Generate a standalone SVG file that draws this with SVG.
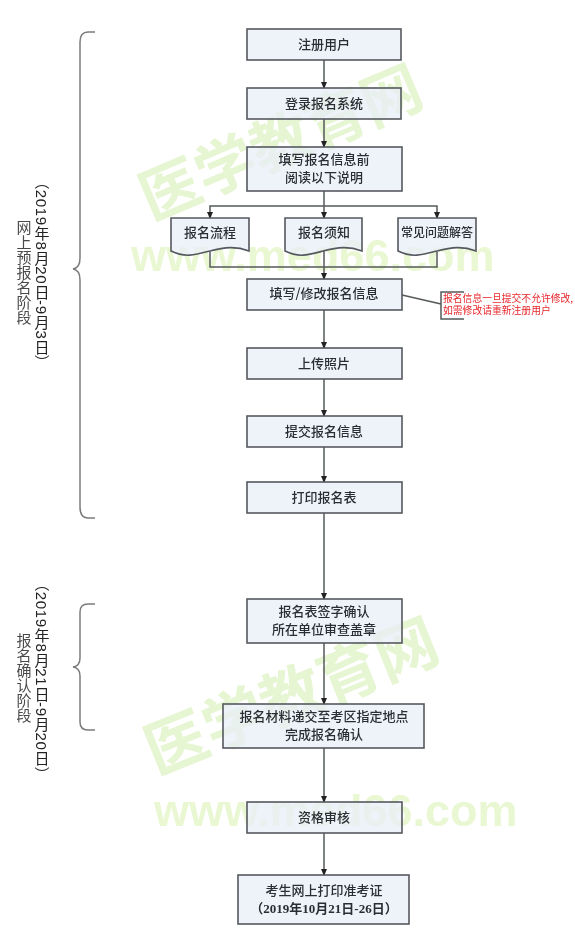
<svg xmlns="http://www.w3.org/2000/svg" width="575" height="940" viewBox="0 0 575 940">
<style>
.box{fill:#e8eef7;fill-opacity:.75;stroke:#55595f;stroke-width:1.6}
.t{font-family:"Noto Sans CJK SC","Liberation Serif",serif;font-size:13px;font-weight:500;fill:#2a2f32;text-anchor:middle}
.c{fill:none;stroke:#55595a;stroke-width:1.5}
.b{fill:none;stroke:#7c7c7c;stroke-width:1.5}
.wm{font-family:"Noto Sans CJK SC","Liberation Sans",sans-serif;font-weight:700;fill:#e6f5d2}
.wu{font-family:"Liberation Sans",sans-serif;font-weight:700;font-size:45px;fill:#e9f7d2}
.v{writing-mode:vertical-rl;font-family:"Liberation Sans","Noto Sans CJK SC",sans-serif;font-size:15px;letter-spacing:.7px;fill:#222}
.l{fill:#4a4a4a;font-family:"Noto Sans CJK SC",sans-serif;letter-spacing:0}
.r{font-family:"Noto Sans CJK SC","Liberation Sans",sans-serif;font-size:9.8px;fill:#e8262b}
</style>
<defs>
<marker id="a" markerWidth="7" markerHeight="6" refX="6" refY="3" orient="auto" markerUnits="userSpaceOnUse"><path d="M0 0L7 3L0 6Z" fill="#222"/></marker>
<filter id="s" filterUnits="userSpaceOnUse" x="0" y="0" width="575" height="940"><feGaussianBlur stdDeviation="0.5"/></filter>
</defs>
<rect width="575" height="940" fill="#fff"/>
<g filter="url(#s)">
<g id="watermarks">
<text class="wm" font-size="60" transform="translate(151 221) rotate(-23)">医学教育网</text>
<text class="wu" x="131" y="271">www.med66.com</text>
<text class="wm" font-size="62" transform="translate(156 775) rotate(-22)">医学教育网</text>
<text class="wu" x="154" y="826">www.med66.com</text>
</g>
<g id="connectors">
<path class="c" marker-end="url(#a)" d="M324 60V88"/>
<path class="c" marker-end="url(#a)" d="M324 119V147"/>
<path class="c" marker-end="url(#a)" d="M324 191V218"/>
<path class="c" marker-end="url(#a)" d="M324 206H210V218"/>
<path class="c" marker-end="url(#a)" d="M324 206H437V218"/>
<path class="c" d="M210 252V267H437V252"/>
<path class="c" d="M324 250V267"/>
<path class="c" marker-end="url(#a)" d="M324 267V279"/>
<path class="c" marker-end="url(#a)" d="M324 310V348"/>
<path class="c" marker-end="url(#a)" d="M324 379V416"/>
<path class="c" marker-end="url(#a)" d="M324 447V482"/>
<path class="c" marker-end="url(#a)" d="M324 513V599"/>
<path class="c" marker-end="url(#a)" d="M324 643V704"/>
<path class="c" marker-end="url(#a)" d="M324 748V802"/>
<path class="c" marker-end="url(#a)" d="M324 833V875"/>
<path class="c" d="M402 295L441 304"/>
<path class="c" d="M464 292H441V319H464"/>
</g>
<g id="brace1"><path class="b" d="M95 32H88Q80 32 80 42V258Q80 268 73 269Q80 270 80 280V507Q80 518 88 518H95"/></g>
<g id="brace2"><path class="b" d="M95 604H88Q80 604 80 612V658Q80 666 73 667Q80 668 80 676V722Q80 730 88 730H95"/></g>
<g id="n1"><rect class="box" x="247" y="29" width="154" height="31"/><text class="t" x="324" y="49">注册用户</text></g>
<g id="n2"><rect class="box" x="247" y="88" width="154" height="31"/><text class="t" x="324" y="108">登录报名系统</text></g>
<g id="n3"><rect class="box" x="247" y="147" width="155" height="44"/><text class="t" x="324" y="164">填写报名信息前</text><text class="t" x="324" y="182">阅读以下说明</text></g>
<g id="d1"><path class="box" d="M171 218H249V251C236 246 225 247 210 251S185 258 171 251Z"/><text class="t" x="210" y="237">报名流程</text></g>
<g id="d2"><path class="box" d="M285 218H362V251C349 246 338 247 323 251S299 258 285 251Z"/><text class="t" x="324" y="237">报名须知</text></g>
<g id="d3"><path class="box" d="M398 218H476V251C463 246 452 247 437 251S412 258 398 251Z"/><text class="t" x="437" y="237" style="font-size:12px">常见问题解答</text></g>
<g id="n4"><rect class="box" x="247" y="279" width="155" height="31"/><text class="t" x="324" y="298">填写/修改报名信息</text></g>
<g id="note"><text class="r" x="443" y="302">报名信息一旦提交不允许修改,</text><text class="r" x="443" y="314">如需修改请重新注册用户</text></g>
<g id="n5"><rect class="box" x="247" y="348" width="155" height="31"/><text class="t" x="324" y="368">上传照片</text></g>
<g id="n6"><rect class="box" x="247" y="416" width="155" height="31"/><text class="t" x="324" y="436">提交报名信息</text></g>
<g id="n7"><rect class="box" x="247" y="482" width="155" height="31"/><text class="t" x="324" y="502">打印报名表</text></g>
<g id="n8"><rect class="box" x="247" y="599" width="155" height="44"/><text class="t" x="324" y="616">报名表签字确认</text><text class="t" x="324" y="634">所在单位审查盖章</text></g>
<g id="n9"><rect class="box" x="223" y="704" width="201" height="44"/><text class="t" x="324" y="721">报名材料递交至考区指定地点</text><text class="t" x="324" y="739">完成报名确认</text></g>
<g id="n10"><rect class="box" x="247" y="802" width="155" height="31"/><text class="t" x="324" y="822">资格审核</text></g>
<g id="n11"><rect class="box" x="238" y="875" width="171" height="49"/><text class="t" x="324" y="895">考生网上打印准考证</text><text class="t" x="324" y="913" style="font-weight:700;font-family:'Liberation Serif','Noto Sans CJK SC',serif">（2019年10月21日-26日）</text></g>
<g id="label1"><text class="v" x="41" y="174">（2019年8月20日-9月3日）</text><text class="v l" x="24" y="220">网上预报名阶段</text></g>
<g id="label2"><text class="v" x="41" y="576">（2019年8月21日-9月20日）</text><text class="v l" x="24" y="633">报名确认阶段</text></g>
</g>
</svg>
